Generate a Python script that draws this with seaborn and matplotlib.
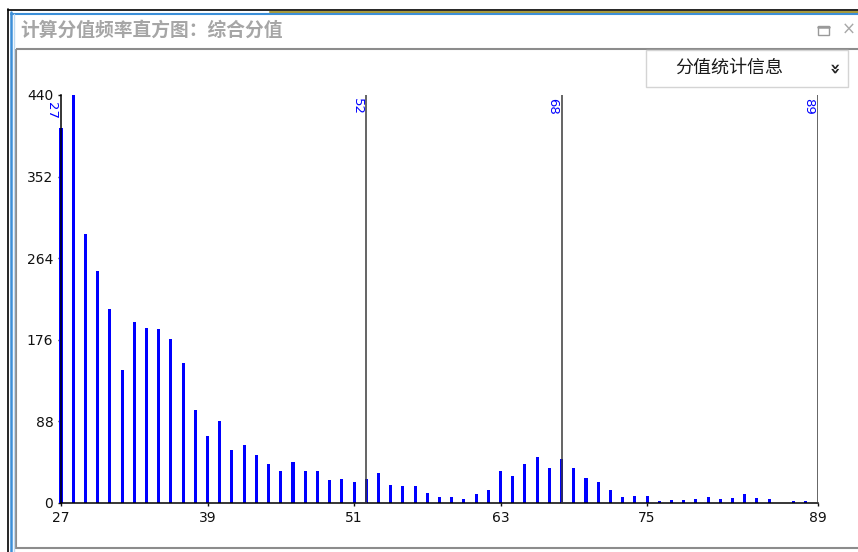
import numpy as np
import pandas as pd
import matplotlib
matplotlib.use("Agg")
import matplotlib.pyplot as plt
import seaborn as sns
from matplotlib.patches import Rectangle

# score values and their frequencies
scores = list(range(27, 90))
counts = [404, 440, 290, 250, 209, 143, 195, 189, 188, 177,
          151, 100, 72, 88, 57, 63, 52, 42, 34, 44,
          34, 34, 25, 26, 23, 26, 32, 19, 18, 18,
          11, 7, 7, 4, 10, 14, 35, 29, 42, 50,
          38, 47, 38, 27, 23, 14, 7, 8, 8, 2,
          3, 3, 4, 6, 4, 5, 10, 5, 4, 0,
          2, 2, 0]
break_values = [27, 52, 68, 89]
x_ticks = [27, 39, 51, 63, 75, 89]
y_ticks = [0, 88, 176, 264, 352, 440]

title = "计算分值频率直方图：综合分值"
info_label = "分值统计信息"

sns.set_style("ticks")
plt.rcParams['font.family'] = ['DejaVu Sans', 'Noto Sans CJK SC']
cjk = ['Noto Sans CJK SC', 'DejaVu Sans']

W, H = 858, 552
fig = plt.figure(figsize=(W / 100, H / 100), dpi=100)

# window chrome, drawn in pixel coords
bg = fig.add_axes([0, 0, 1, 1], zorder=0)
bg.set_xlim(0, W)
bg.set_ylim(H, 0)
bg.axis('off')

bg.plot([8, W], [9.5, 9.5], color='black', lw=1.2)
bg.plot([270, W], [11.5, 11.5], color='#a89a3a', lw=1.5)
bg.plot([8, 8], [9, H], color='black', lw=1.2)
bg.plot([11, 11], [12, H], color='#3c8fd8', lw=1.8)
bg.plot([11, W], [13.5, 13.5], color='#3c8fd8', lw=1.5)
bg.plot([13.5, 13.5], [14, H], color='#bcd8f0', lw=1)
bg.add_patch(Rectangle((16, 49), 900, 499, fill=False, edgecolor='#8c8c8c', lw=1.5))

bg.text(20, 30, title, family=cjk, fontsize=13.5, fontweight='bold',
        color='#a6a6a6', ha='left', va='center')
bg.add_patch(Rectangle((818, 25.5), 10.5, 9.5, fill=False, edgecolor='#9a9a9a', lw=1))
bg.plot([818, 828.5], [26.5, 26.5], color='#9a9a9a', lw=1.8)
bg.text(849, 30, "×", fontsize=12, color='#a8a8a8', ha='center', va='center')

bg.add_patch(Rectangle((646, 50), 202, 37, facecolor='white', edgecolor='#d4d4d4', lw=1))
bg.text(729, 68, info_label, family=cjk, fontsize=13, color='#1a1a1a',
        ha='center', va='center')
bg.text(832, 69, "»", fontsize=13, fontweight='bold', color='#222222',
        rotation=-90, ha='center', va='center')

# histogram area
ax = fig.add_axes([61 / W, 1 - 503 / H, 757 / W, 408 / H], zorder=1)
ax.patch.set_alpha(0)
sns.histplot(x=scores, weights=counts, discrete=True, shrink=0.25,
             color='#0000ff', alpha=1, linewidth=0, ax=ax)
for p in ax.patches:
    p.set_clip_on(False)

for v in break_values[1:]:
    ax.axvline(v, ymin=0, ymax=1, color='#3a3a3a', lw=1.1, zorder=3)
for v in break_values:
    # first label sits under the 440 tick label, nudge it a bit lower
    dy = -5 if v == break_values[0] else -2.5
    ax.annotate(str(v), xy=(v, 440), xytext=(-2, dy), textcoords='offset points',
                rotation=-90, ha='right', va='top', color='#0000ff', fontsize=9.5)

ax.set_xlim(27, 89)
ax.set_ylim(0, 440)
ax.set_xticks(x_ticks)
ax.set_yticks(y_ticks)
ax.set_xlabel('')
ax.set_ylabel('')
ax.tick_params(axis='both', length=2.5, width=1, pad=3, labelsize=10,
               colors='#111111', direction='out')
sns.despine(ax=ax, top=True, right=True)
ax.spines['left'].set_linewidth(1.1)
ax.spines['bottom'].set_linewidth(1.1)
ax.spines['left'].set_color('black')
ax.spines['bottom'].set_color('black')
ax.spines['left'].set_zorder(4)

fig.savefig('out.png', dpi=100)
